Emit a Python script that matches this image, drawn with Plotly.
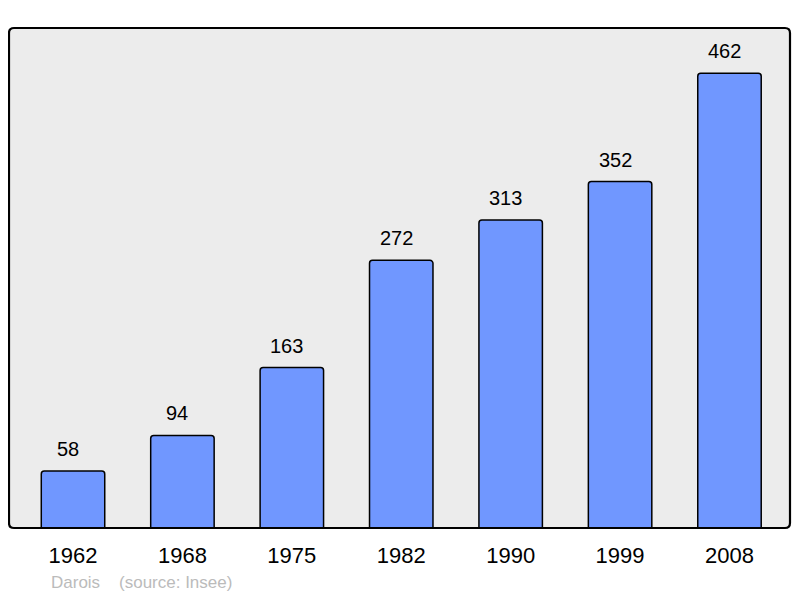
import plotly.graph_objects as go

years = ["1962", "1968", "1975", "1982", "1990", "1999", "2008"]
population = [58, 94, 163, 272, 313, 352, 462]
footer_name = "Darois"
footer_source = "(source: Insee)"

fig = go.Figure()
fig.add_trace(go.Bar(
    x=list(range(len(years))), y=population,
    width=0.58,
    marker=dict(color="#7097ff", line=dict(color="#000000", width=1.5), cornerradius=3),
    hoverinfo="skip",
))

for i, v in enumerate(population):
    fig.add_annotation(x=i, y=v, text=str(v), showarrow=False, yanchor="middle",
                       yshift=22, xshift=-5,
                       font=dict(family="Liberation Sans, Arial", size=20, color="#000"))

# rounded plot border
rx = 5 / 781
ry = 5 / 501
path = (f"M {rx} 0 L {1-rx} 0 Q 1 0 1 {ry} L 1 {1-ry} Q 1 1 {1-rx} 1 "
        f"L {rx} 1 Q 0 1 0 {1-ry} L 0 {ry} Q 0 0 {rx} 0 Z")
fig.add_shape(type="path", path=path, xref="x domain", yref="y domain",
              line=dict(color="#000000", width=2.2), layer="above")

fig.add_annotation(xref="paper", yref="paper", x=(49 - 9) / 781, y=(528.5 - 583) / 501,
                   xanchor="left", yanchor="middle", showarrow=False,
                   text=footer_name + "\u00a0\u00a0\u00a0\u00a0" + footer_source,
                   font=dict(family="Liberation Sans, Arial", size=17, color="#bbbbbb"))

fig.update_layout(
    width=792, height=590,
    margin=dict(l=1, r=10, t=19.5, b=69.5),
    paper_bgcolor="#ffffff", plot_bgcolor="#ececec",
    showlegend=False,
    xaxis=dict(range=[-0.585, 6.553], tickmode="array", tickvals=list(range(len(years))),
               ticktext=years, showgrid=False, zeroline=False, showline=False, ticks="",
               tickfont=dict(family="Liberation Sans, Arial", size=22, color="#000"),
               ticklabelstandoff=12),
    yaxis=dict(range=[0, 508], showgrid=False, zeroline=False, showline=False,
               showticklabels=False, ticks=""),
)

fig.write_html("out.html")
